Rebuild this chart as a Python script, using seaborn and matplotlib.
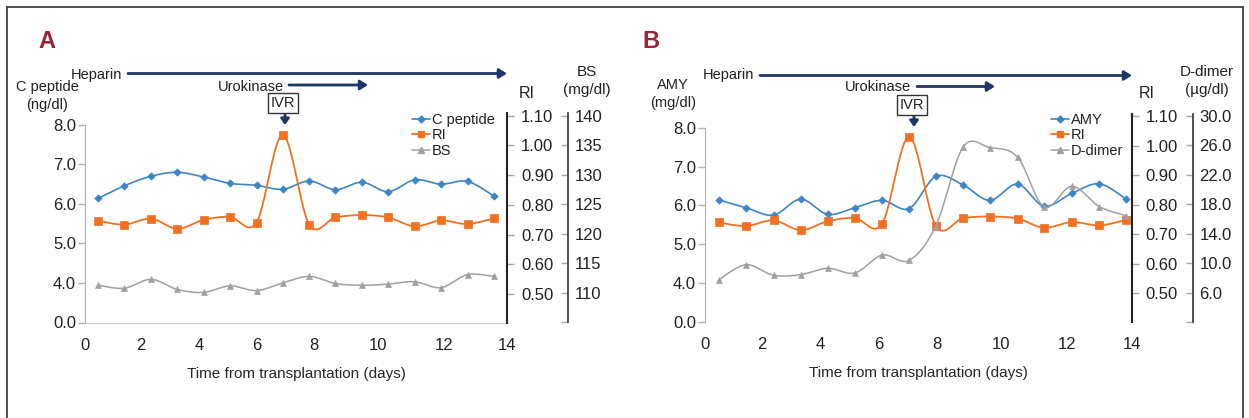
import matplotlib
matplotlib.use('Agg')
import matplotlib.pyplot as plt
from matplotlib.lines import Line2D
from matplotlib.patches import FancyArrowPatch
import numpy as np
import seaborn as sns

# Panel A data
days_a = [0.44, 1.31, 2.19, 3.06, 3.94, 4.81, 5.69, 6.56, 7.44, 8.31, 9.19, 10.06, 10.94, 11.81, 12.69, 13.56]
c_peptide = [6.14, 6.46, 6.70, 6.80, 6.68, 6.52, 6.47, 6.37, 6.58, 6.36, 6.55, 6.31, 6.61, 6.50, 6.57, 6.20]
ri_a = [0.747, 0.734, 0.754, 0.720, 0.750, 0.760, 0.741, 1.035, 0.734, 0.758, 0.766, 0.758, 0.728, 0.748, 0.736, 0.755]
bs = [111.3, 110.8, 112.3, 110.6, 110.1, 111.2, 110.4, 111.7, 112.8, 111.6, 111.3, 111.5, 111.9, 110.9, 113.1, 112.8]

# Panel B data
days_b = [0.46, 1.35, 2.25, 3.14, 4.03, 4.92, 5.81, 6.70, 7.58, 8.47, 9.35, 10.26, 11.13, 12.04, 12.94, 13.81]
amy = [6.14, 5.94, 5.75, 6.16, 5.77, 5.94, 6.13, 5.92, 6.75, 6.53, 6.13, 6.55, 5.98, 6.31, 6.56, 6.17]
ri_b = [0.740, 0.728, 0.747, 0.714, 0.744, 0.755, 0.735, 1.030, 0.728, 0.754, 0.760, 0.753, 0.722, 0.741, 0.730, 0.748]
d_dimer = [7.76, 9.79, 8.35, 8.44, 9.30, 8.67, 11.1, 10.38, 15.1, 25.76, 25.71, 24.41, 17.64, 20.44, 17.69, 16.47]

day_labels = ['0', '2', '4', '6', '8', '10', '12', '14']
left_labels = ['0.0', '4.0', '5.0', '6.0', '7.0', '8.0']
ri_labels = ['0.50', '0.60', '0.70', '0.80', '0.90', '1.00', '1.10']
bs_labels = ['', '110', '115', '120', '125', '130', '135', '140']
dd_labels = ['', '6.0', '10.0', '14.0', '18.0', '22.0', '26.0', '30.0']

BLUE = '#3d85c6'
ORANGE = '#f37021'
GREY = '#a0a0a0'
NAVY = '#1c3766'
TXT = '#231f20'

W, H = 1249, 418
FS = 10.5      # general text
TFS = 12       # tick labels

sns.set_style('white')
plt.rcParams['font.family'] = ['Liberation Sans', 'DejaVu Sans']
plt.rcParams['text.color'] = TXT
plt.rcParams['xtick.color'] = TXT
plt.rcParams['ytick.color'] = TXT


def fx(x):
    return x / W


def fy(y):
    return 1 - y / H


def smooth(x, y, n=20):
    # Excel-style smoothed line (Catmull-Rom bezier), only for drawing
    x = np.asarray(x, float)
    y = np.asarray(y, float)
    t = np.linspace(0, 1, n)[1:, None]
    p = np.column_stack([x, y])
    out = [p[:1]]
    for i in range(len(p) - 1):
        p0 = p[max(i - 1, 0)]
        p3 = p[min(i + 2, len(p) - 1)]
        c1 = p[i] + (p[i + 1] - p0) / 6
        c2 = p[i + 1] - (p3 - p[i]) / 6
        seg = ((1 - t) ** 3) * p[i] + 3 * ((1 - t) ** 2) * t * c1 + 3 * (1 - t) * t ** 2 * c2 + t ** 3 * p[i + 1]
        out.append(seg)
    out = np.vstack(out)
    return out[:, 0], out[:, 1]


def draw_series(ax, x, y, color, marker, size, lw):
    sx, sy = smooth(x, y)
    sns.lineplot(x=sx, y=sy, ax=ax, color=color, lw=lw, sort=False, estimator=None)
    sns.scatterplot(x=x, y=y, ax=ax, color=color, marker=marker, s=size,
                    edgecolor=color, linewidth=0.5, zorder=5)


def arrow(x0, y0, x1, y1, lw, hl, hw):
    fig.add_artist(FancyArrowPatch((fx(x0), fy(y0)), (fx(x1), fy(y1)), transform=fig.transFigure,
                                   arrowstyle=f'-|>,head_length={hl},head_width={hw}',
                                   mutation_scale=10, lw=lw, color=NAVY, shrinkA=0, shrinkB=0))


fig = plt.figure(figsize=(W / 100, H / 100), dpi=100)

# outer frame
for (x0, y0, x1, y1) in [(7, 7, 1243, 7), (7, 7, 7, 418), (1243, 7, 1243, 418)]:
    fig.add_artist(Line2D([fx(x0), fx(x1)], [fy(y0), fy(y1)], color='#333333', lw=1.2))


def make_panel(box, ylim1, ylim2, ylim3, days, main, ri, third, third_ticks, third_labels,
               bottom_spine, names, letter, geo):
    ax = fig.add_axes(box)
    draw_series(ax, days, main, BLUE, 'D', 14, 1.2)
    ax.set_xlim(0, 14)
    ax.set_ylim(*ylim1)
    ax.set_xticks([0, 1.85, 3.78, 5.69, 7.6, 9.72, 11.9, 14.0])
    ax.set_xticklabels(day_labels)
    ax.set_yticks([3, 4, 5, 6, 7, 8])
    ax.set_yticklabels(left_labels)
    ax.tick_params(axis='x', length=0, pad=11, labelsize=TFS)
    ax.tick_params(axis='y', length=5, width=1, color='#b0b0b0', pad=1.5, left=True, labelsize=TFS)
    ax.set_xlabel('Time from transplantation (days)', fontsize=FS + 0.5, labelpad=10)
    for s in ['top', 'right']:
        ax.spines[s].set_visible(False)
    ax.spines['left'].set_color('#b0b0b0')
    ax.spines['left'].set_bounds(3, 8)
    ax.spines['bottom'].set_color('#c8c8c8')
    ax.spines['bottom'].set_visible(bottom_spine)
    ax.set_ylabel('')

    ax2 = ax.twinx()
    draw_series(ax2, days, ri, ORANGE, 's', 30, 1.3)
    ax2.set_ylim(*ylim2)
    ax2.set_yticks([0.5, 0.6, 0.7, 0.8, 0.9, 1.0, 1.1])
    ax2.set_yticklabels(ri_labels)
    ax2.tick_params(axis='y', length=5, width=1, color='#a8a8a8', pad=5, right=True,
                    direction='out', labelsize=TFS)
    for s in ['top', 'left', 'bottom']:
        ax2.spines[s].set_visible(False)
    ax2.spines['right'].set_color('#222222')
    ax2.spines['right'].set_linewidth(1.5)
    ax2.set_ylabel('')

    ax3 = ax.twinx()
    ax3.spines['right'].set_position(('axes', 1 + 61 / (box[2] * W)))
    draw_series(ax3, days, third, GREY, '^', 18, 1.1)
    ax3.set_ylim(*ylim3)
    ax3.set_yticks(third_ticks)
    ax3.set_yticklabels(third_labels)
    ax3.tick_params(axis='y', length=5, width=1, color='#a8a8a8', pad=5, right=True,
                    direction='in', labelsize=TFS)
    for s in ['top', 'left', 'bottom']:
        ax3.spines[s].set_visible(False)
    ax3.spines['right'].set_color('#333333')
    ax3.spines['right'].set_linewidth(1.2)
    ax3.set_ylabel('')

    # legend
    handles = [Line2D([], [], color=BLUE, marker='D', ms=3.5, lw=1.2),
               Line2D([], [], color=ORANGE, marker='s', ms=5, lw=1.3),
               Line2D([], [], color=GREY, marker='^', ms=4, lw=1.1)]
    ax3.legend(handles, names, loc='upper left', bbox_to_anchor=(fx(geo['leg'][0]), fy(geo['leg'][1])),
               bbox_transform=fig.transFigure, frameon=False, fontsize=FS, handlelength=1.2,
               handletextpad=0.15, labelspacing=0.1, borderpad=0, borderaxespad=0)

    # texts
    fig.text(fx(geo['letter'][0]), fy(geo['letter'][1]), letter, fontsize=17, fontweight='bold',
             color='#9b2335', ha='left', va='center')
    fig.text(fx(geo['ylab'][0]), fy(geo['ylab'][1]), geo['ylab'][2], fontsize=FS,
             ha='center', va='center', linespacing=1.35)
    fig.text(fx(geo['ri'][0]), fy(geo['ri'][1]), 'RI', fontsize=FS + 1, ha='center', va='center')
    fig.text(fx(geo['third'][0]), fy(geo['third'][1]), geo['third'][2], fontsize=FS + 0.5,
             ha='center', va='center', linespacing=1.4)
    fig.text(fx(geo['hep'][0]), fy(geo['hep'][1]), 'Heparin', fontsize=FS, ha='right', va='center')
    fig.text(fx(geo['uro'][0]), fy(geo['uro'][1]), 'Urokinase', fontsize=FS, ha='right', va='center')
    fig.text(fx(geo['ivr'][0]), fy(geo['ivr'][1]), 'IVR', fontsize=FS, ha='center', va='center',
             bbox=dict(boxstyle='square,pad=0.2', fc='white', ec='#333333', lw=1))

    for key in ['hep_arrow', 'uro_arrow']:
        x0, x1, y = geo[key]
        arrow(x0, y, x1, y, 2.0, 0.45, 0.28)
    x, y0, y1 = geo['down']
    arrow(x, y0, x, y1, 2.0, 0.35, 0.25)
    return ax


geo_a = dict(leg=(412, 113), letter=(38, 41), ylab=(47, 96, 'C peptide\n(ng/dl)'),
             ri=(527, 93), third=(587, 81, 'BS\n(mg/dl)'), hep=(122, 75), uro=(284, 87),
             ivr=(283, 103), hep_arrow=(128, 507, 73.5), uro_arrow=(289, 368, 85),
             down=(285, 111, 125))
geo_b = dict(leg=(1051, 113), letter=(642, 41), ylab=(673, 94, 'AMY\n(mg/dl)'),
             ri=(1147, 93), third=(1207, 81, 'D-dimer\n(µg/dl)'), hep=(754, 75), uro=(911, 87),
             ivr=(912, 105), hep_arrow=(760, 1132, 75.5), uro_arrow=(917, 995, 86.5),
             down=(914, 113, 127))

make_panel([fx(85), fy(322.5), (507 - 85) / W, (322.5 - 113) / H],
           (3, 8.30), (0.405, 1.109), (105.26, 140.45),
           days_a, c_peptide, ri_a, bs, [105, 110, 115, 120, 125, 130, 135, 140], bs_labels,
           True, ['C peptide', 'RI', 'BS'], 'A', geo_a)
make_panel([fx(705), fy(322), (1131.5 - 705) / W, (322 - 114) / H],
           (2.99, 8.36), (0.403, 1.107), (2.12, 30.27),
           days_b, amy, ri_b, d_dimer, [2, 6, 10, 14, 18, 22, 26, 30], dd_labels,
           False, ['AMY', 'RI', 'D-dimer'], 'B', geo_b)

fig.savefig('out.png', dpi=100, facecolor='white')
